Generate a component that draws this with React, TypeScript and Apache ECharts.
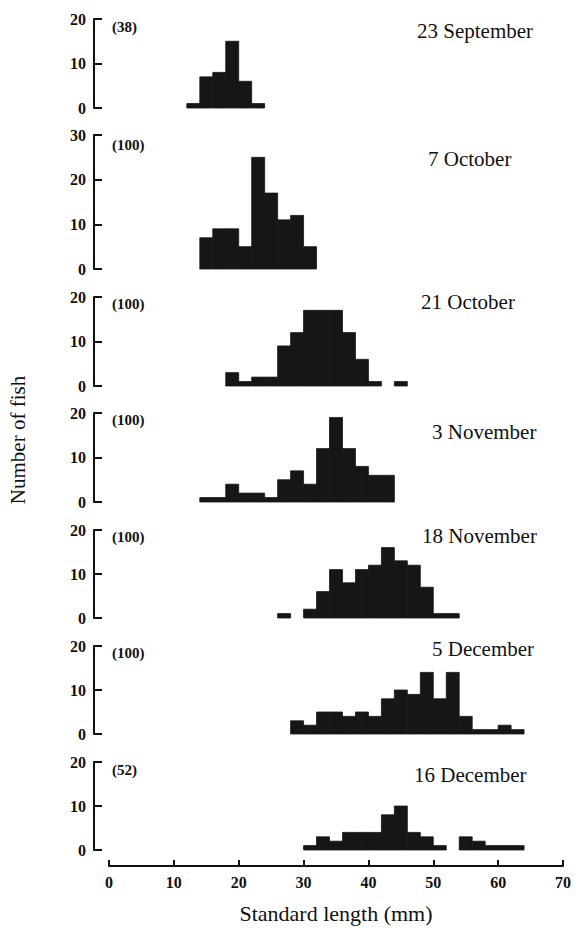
import React, { useEffect, useRef } from "react";
import * as echarts from "echarts";

// ---- data ----
const BIN_WIDTH = 2; // mm per histogram class
const xMin = 0;
const xMax = 70;
const xInterval = 10;

const panelDates = [
  "23 September",
  "7 October",
  "21 October",
  "3 November",
  "18 November",
  "5 December",
  "16 December",
];
const sampleSizes = [38, 100, 100, 100, 100, 100, 52];
const yMaxima = [20, 30, 20, 20, 20, 20, 20];

const sep23Start = 12;
const sep23Counts = [1, 7, 8, 15, 6, 1];
const oct7Start = 14;
const oct7Counts = [7, 9, 9, 5, 25, 17, 11, 12, 5];
const oct21Start = 18;
const oct21Counts = [3, 1, 2, 2, 9, 12, 17, 17, 17, 12, 6, 1, 0, 1];
const nov3Start = 14;
const nov3Counts = [1, 1, 4, 2, 2, 1, 5, 7, 4, 12, 19, 12, 8, 6, 6];
const nov18Start = 26;
const nov18Counts = [1, 0, 2, 6, 11, 8, 11, 12, 16, 13, 12, 7, 1, 1];
const dec5Start = 28;
const dec5Counts = [3, 2, 5, 5, 4, 5, 4, 8, 10, 9, 14, 8, 14, 4, 1, 1, 2, 1];
const dec16Start = 30;
const dec16Counts = [1, 3, 2, 4, 4, 4, 8, 10, 4, 3, 1, 0, 3, 2, 1, 1, 1];

const panelStarts = [sep23Start, oct7Start, oct21Start, nov3Start, nov18Start, dec5Start, dec16Start];
const panelCounts = [sep23Counts, oct7Counts, oct21Counts, nov3Counts, nov18Counts, dec5Counts, dec16Counts];

// ---- layout / style ----
const W = 579;
const H = 937;
const INK = "#111111";
const BAR = "#161616";
const SERIF = "'Liberation Serif', 'Times New Roman', serif";
const gridLeft = 109;
const gridWidth = 454;
const panelTops = [19, 135, 297, 413, 530, 646, 762];
const panelHeights = [89, 134, 89, 89, 88, 88, 88];
const datePos: [number, number][] = [
  [417, 31],
  [428, 159],
  [421, 302],
  [432, 432],
  [422, 536],
  [432, 649],
  [414, 775],
];
const nLabelOffsets = [8, 10, 7, 7, 7, 7, 8];

export default function App() {
  const ref = useRef<HTMLDivElement>(null);

  useEffect(() => {
    if (!ref.current) return;
    const chart = echarts.init(ref.current, undefined, { renderer: "svg" });
    const n = panelDates.length;

    const grids = panelTops.map((t, i) => ({
      left: gridLeft,
      width: gridWidth,
      top: t,
      height: panelHeights[i],
    }));

    const axisLine = { show: true, onZero: false, lineStyle: { color: INK, width: 2 } };

    const xAxes = panelTops.map((_, i) => ({
      gridIndex: i,
      type: "value",
      min: xMin,
      max: xMax,
      interval: xInterval,
      show: i === n - 1,
      offset: 16,
      axisLine,
      axisTick: { show: true, inside: true, length: 6, lineStyle: { color: INK, width: 2 } },
      axisLabel: {
        margin: 8,
        color: INK,
        fontFamily: SERIF,
        fontWeight: "bold",
        fontSize: 16,
      },
      splitLine: { show: false },
      name: i === n - 1 ? "Standard length (mm)" : "",
      nameLocation: "middle",
      nameGap: 36,
      nameTextStyle: { color: INK, fontFamily: SERIF, fontSize: 22 },
    }));

    const yAxes = panelTops.map((_, i) => ({
      gridIndex: i,
      type: "value",
      min: 0,
      max: yMaxima[i],
      interval: 10,
      offset: 15,
      axisLine,
      axisTick: { show: true, inside: true, length: 8, lineStyle: { color: INK, width: 2 } },
      axisLabel: {
        margin: 8,
        color: INK,
        fontFamily: SERIF,
        fontWeight: "bold",
        fontSize: 16,
      },
      splitLine: { show: false },
    }));

    const series = panelCounts.map((counts, i) => ({
      type: "custom",
      xAxisIndex: i,
      yAxisIndex: i,
      data: counts.map((c, k) => [panelStarts[i] + k * BIN_WIDTH, c]),
      renderItem: (params: any, api: any) => {
        const start = api.value(0);
        const count = api.value(1);
        if (!count) return null;
        const p0 = api.coord([start, 0]);
        const p1 = api.coord([start + BIN_WIDTH, count]);
        return {
          type: "rect",
          shape: { x: p0[0], y: p1[1], width: p1[0] - p0[0], height: p0[1] - p1[1] },
          style: { fill: BAR, stroke: BAR, lineWidth: 0.8 },
        };
      },
    }));

    const graphics: any[] = [];
    panelDates.forEach((d, i) => {
      graphics.push({
        type: "text",
        x: datePos[i][0],
        y: datePos[i][1],
        style: {
          text: d,
          fill: INK,
          font: `21px ${SERIF}`,
          align: "left",
          verticalAlign: "middle",
        },
      });
      graphics.push({
        type: "text",
        x: 112,
        y: panelTops[i] + nLabelOffsets[i],
        style: {
          text: `(${sampleSizes[i]})`,
          fill: INK,
          font: `bold 15px ${SERIF}`,
          align: "left",
          verticalAlign: "middle",
        },
      });
    });
    graphics.push({
      type: "text",
      x: 18,
      y: 440,
      rotation: Math.PI / 2,
      style: {
        text: "Number of fish",
        fill: INK,
        font: `21px ${SERIF}`,
        align: "center",
        verticalAlign: "middle",
      },
    });

    chart.setOption({
      animation: false,
      backgroundColor: "#ffffff",
      grid: grids,
      xAxis: xAxes,
      yAxis: yAxes,
      series,
      graphic: graphics,
    });

    return () => chart.dispose();
  }, []);

  return (
    <div
      ref={ref}
      style={{ position: "absolute", left: 0, top: 0, width: W, height: H, background: "#fff" }}
    />
  );
}
